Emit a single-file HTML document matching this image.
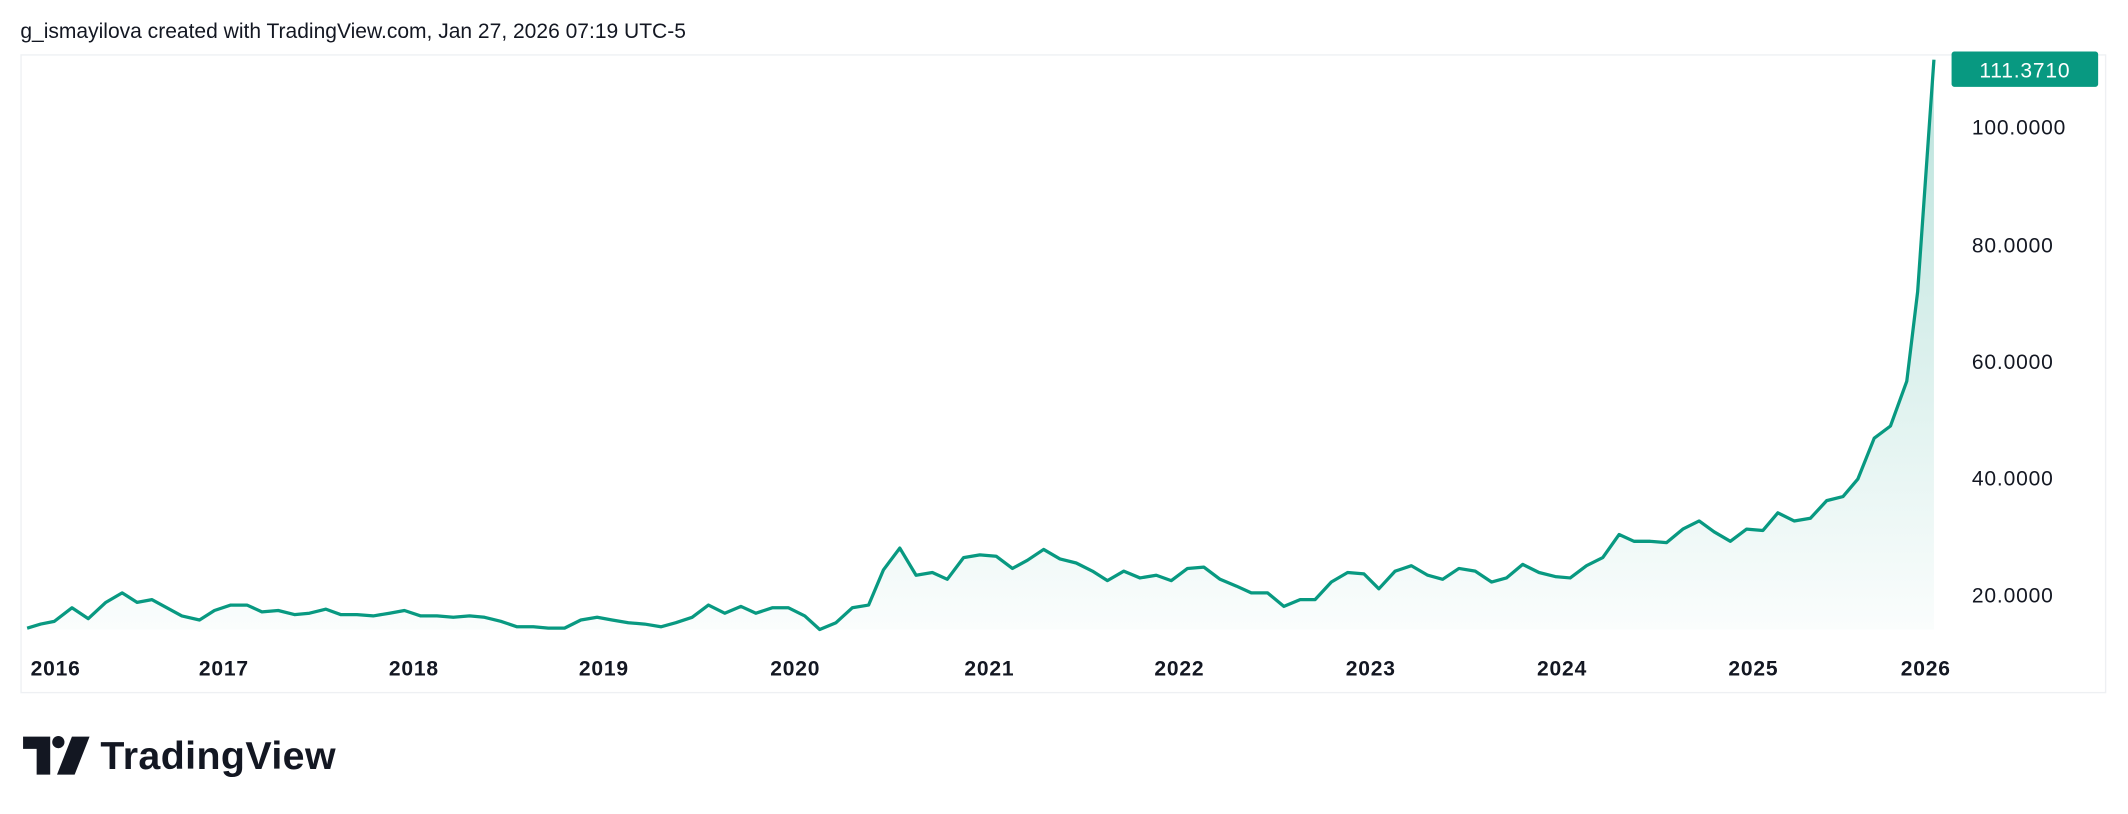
<!DOCTYPE html>
<html><head><meta charset="utf-8"><style>
html,body{margin:0;padding:0;background:#fff;width:2128px;height:814px;overflow:hidden}
svg{display:block}
text{font-family:"Liberation Sans",sans-serif}
</style></head><body>
<svg width="2128" height="814" viewBox="0 0 1568 600" preserveAspectRatio="none">
<defs><linearGradient id="g" x1="0" y1="0" x2="0" y2="1">
<stop offset="0" stop-color="#089981" stop-opacity="0.28"/>
<stop offset="1" stop-color="#089981" stop-opacity="0.02"/></linearGradient></defs>
<text x="15" y="28" font-size="15.5" fill="#131722">g_ismayilova created with TradingView.com, Jan 27, 2026 07:19 UTC-5</text>
<rect x="15.5" y="40.5" width="1536" height="470" fill="none" stroke="#eef0f3" stroke-width="1"/>
<path fill="url(#g)" d="M20,463 L30,460 L40,458 L53,448 L65,456 L78,444 L90,437 L101,444 L112,442 L123,448 L134,454 L147,457 L158,450 L170,446 L182,446 L193,451 L205,450 L217,453 L228,452 L240,449 L251,453 L263,453 L275,454 L287,452 L298,450 L310,454 L322,454 L334,455 L346,454 L357,455 L369,458 L381,462 L393,462 L404,463 L416,463 L428,457 L440,455 L451,457 L463,459 L475,460 L487,462 L498,459 L510,455 L522,446 L534,452 L546,447 L557,452 L569,448 L581,448 L593,454 L604,464 L616,459 L628,448 L640,446 L651,420 L663,404 L675,424 L687,422 L698,427 L710,411 L722,409 L734,410 L746,419 L757,413 L769,405 L781,412 L793,415 L805,421 L816,428 L828,421 L840,426 L852,424 L863,428 L875,419 L887,418 L899,427 L911,432 L922,437 L934,437 L946,447 L958,442 L969,442 L981,429 L993,422 L1005,423 L1016,434 L1028,421 L1040,417 L1052,424 L1063,427 L1075,419 L1087,421 L1099,429 L1110,426 L1122,416 L1134,422 L1146,425 L1157,426 L1169,417 L1181,411 L1193,394 L1204,399 L1216,399 L1228,400 L1240,390 L1252,384 L1263,392 L1275,399 L1287,390 L1299,391 L1310,378 L1322,384 L1334,382 L1346,369 L1358,366 L1369,353 L1381,323 L1393,314 L1405,281 L1413,215 L1425,44 L1425,464 L20,464 Z"/>
<polyline fill="none" stroke="#089981" stroke-width="2.4" stroke-linejoin="round" points="20,463 30,460 40,458 53,448 65,456 78,444 90,437 101,444 112,442 123,448 134,454 147,457 158,450 170,446 182,446 193,451 205,450 217,453 228,452 240,449 251,453 263,453 275,454 287,452 298,450 310,454 322,454 334,455 346,454 357,455 369,458 381,462 393,462 404,463 416,463 428,457 440,455 451,457 463,459 475,460 487,462 498,459 510,455 522,446 534,452 546,447 557,452 569,448 581,448 593,454 604,464 616,459 628,448 640,446 651,420 663,404 675,424 687,422 698,427 710,411 722,409 734,410 746,419 757,413 769,405 781,412 793,415 805,421 816,428 828,421 840,426 852,424 863,428 875,419 887,418 899,427 911,432 922,437 934,437 946,447 958,442 969,442 981,429 993,422 1005,423 1016,434 1028,421 1040,417 1052,424 1063,427 1075,419 1087,421 1099,429 1110,426 1122,416 1134,422 1146,425 1157,426 1169,417 1181,411 1193,394 1204,399 1216,399 1228,400 1240,390 1252,384 1263,392 1275,399 1287,390 1299,391 1310,378 1322,384 1334,382 1346,369 1358,366 1369,353 1381,323 1393,314 1405,281 1413,215 1425,44"/>
<g font-size="15.5" fill="#131722" letter-spacing="0.6">
<text x="1453" y="99">100.0000</text>
<text x="1453" y="186">80.0000</text>
<text x="1453" y="272">60.0000</text>
<text x="1453" y="358">40.0000</text>
<text x="1453" y="444">20.0000</text>
</g>
<rect x="1438" y="38" width="108" height="26" rx="2" fill="#089981"/>
<text x="1492" y="57" font-size="15.5" fill="#fff" text-anchor="middle" letter-spacing="0.6">111.3710</text>
<g font-size="15.5" font-weight="bold" fill="#131722" text-anchor="middle" letter-spacing="0.6">
<text x="41" y="498">2016</text>
<text x="165" y="498">2017</text>
<text x="305" y="498">2018</text>
<text x="445" y="498">2019</text>
<text x="586" y="498">2020</text>
<text x="729" y="498">2021</text>
<text x="869" y="498">2022</text>
<text x="1010" y="498">2023</text>
<text x="1151" y="498">2024</text>
<text x="1292" y="498">2025</text>
<text x="1419" y="498">2026</text>
</g>
<g fill="#131722">
<path d="M17,543 H37 V571 H27 V552 H17 Z"/>
<circle cx="43" cy="547" r="4.5"/>
<path d="M53,543 H66 L55,571 H42 Z"/>
</g>
<text x="74" y="567" font-size="29" font-weight="bold" fill="#131722" letter-spacing="0.3">TradingView</text>
</svg>
</body></html>
